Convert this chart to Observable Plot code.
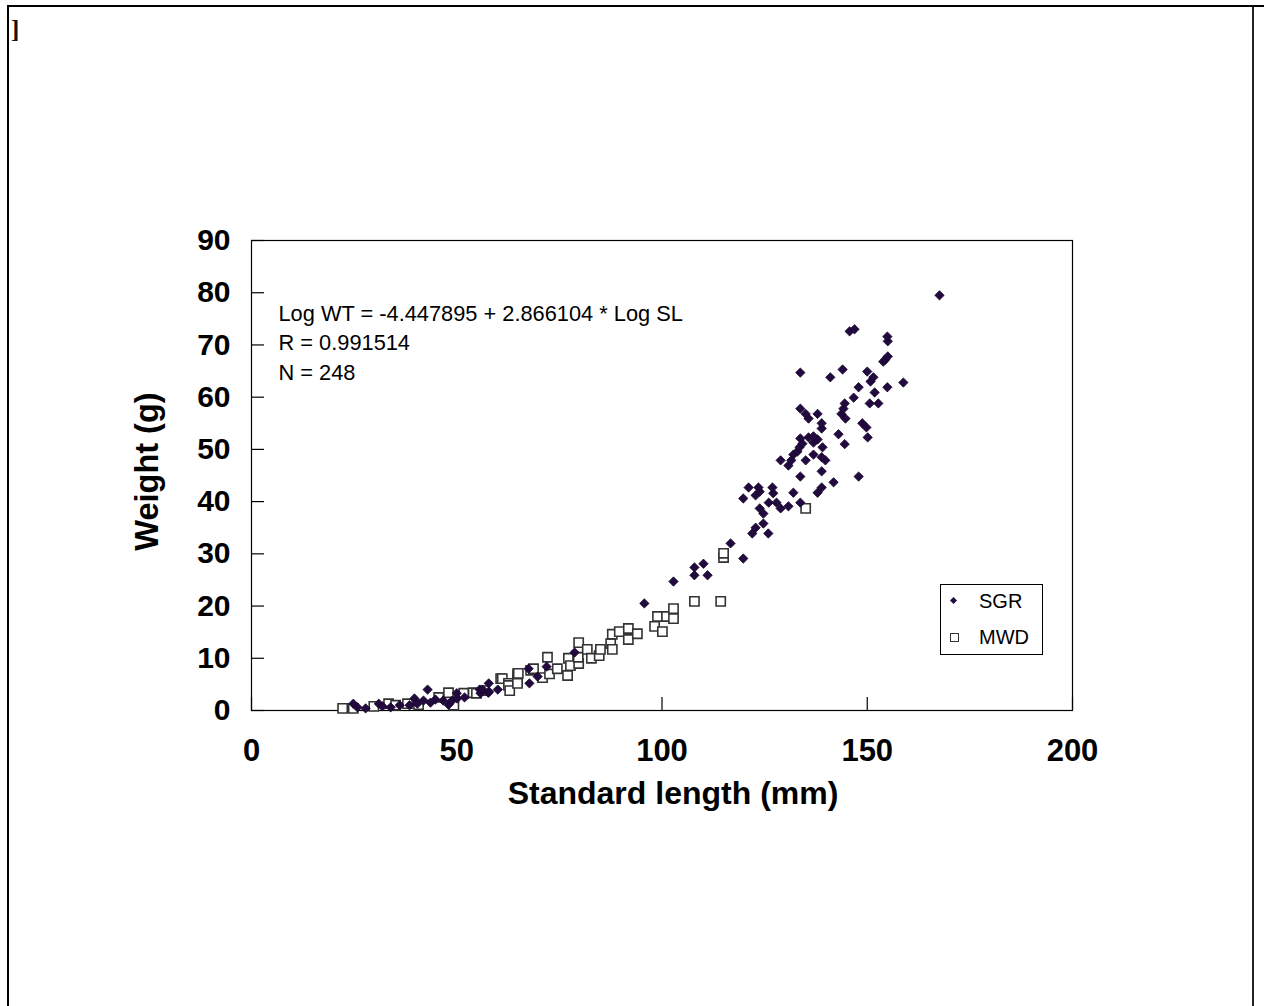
<!DOCTYPE html>
<html>
<head>
<meta charset="utf-8">
<script src="https://cdn.jsdelivr.net/npm/d3@7"></script>
<script src="https://cdn.jsdelivr.net/npm/@observablehq/plot@0.6"></script>
<style>
  html, body { margin: 0; padding: 0; background: #fff; }
  #wrap { position: relative; width: 1264px; height: 1006px; overflow: hidden; font-family: "Liberation Sans", Arial, sans-serif; }
  #chart { position: absolute; left: 0; top: 0; }
  .line { position: absolute; background: #000; }
  #bracket { position: absolute; left: 11px; top: 16px; font-family: "Liberation Serif", serif; font-weight: bold; font-size: 25px; color: #111; }
  #legend { position: absolute; left: 940px; top: 584px; width: 101px; height: 69px; border: 1px solid #000; background: #fff; }
  .lg-row { position: absolute; left: 0; height: 24px; width: 100px; }
  .lg-text { position: absolute; left: 38px; top: 0; font-size: 20px; line-height: 24px; color: #000; }
  .lg-dia { position: absolute; left: 10px; top: 9px; width: 5px; height: 5px; background: #220a40; transform: rotate(45deg); }
  .lg-sq { position: absolute; left: 9px; top: 8px; width: 7px; height: 7px; border: 1px solid #333; background: #fff; }
</style>
</head>
<body>
<div id="wrap">
  <div id="chart"></div>
  <div class="line" style="left:7px; top:5px; width:1257px; height:2px;"></div>
  <div class="line" style="left:7px; top:5px; width:2px; height:1001px;"></div>
  <div class="line" style="left:1252px; top:7px; width:2px; height:999px; background:#222;"></div>
  <div id="bracket">]</div>
  <div id="legend">
    <div class="lg-row" style="top:4px;"><div class="lg-dia"></div><div class="lg-text">SGR</div></div>
    <div class="lg-row" style="top:40px;"><div class="lg-sq"></div><div class="lg-text">MWD</div></div>
  </div>
</div>
<script>
// Standard length (mm), Weight (g)
const sgr = [
  [24.8,1.3],[25.8,0.6],[27.8,0.4],[31.0,1.3],[31.9,0.8],[33.9,0.6],[36.1,1.0],[38.5,1.0],[39.7,2.3],[40.4,1.3],
  [41.9,1.9],[42.9,4.0],[43.6,1.5],[44.8,2.1],[46.7,1.9],[48.0,1.1],[48.9,1.9],[50.0,3.3],[50.1,2.3],[51.9,2.5],
  [55.6,4.0],[55.8,3.3],[56.3,4.0],[57.7,3.4],[57.8,5.2],[57.9,3.6],[60.0,4.0],[67.5,8.0],[67.7,5.2],[69.7,6.5],
  [71.9,8.4],[78.7,11.1],[95.7,20.5],[102.8,24.7],[107.9,27.4],[107.9,25.9],[110.1,28.1],[111.1,25.9],[116.7,32.0],[119.8,29.1],
  [122.0,33.9],[125.9,33.9],[122.8,35.0],[124.7,35.8],[124.7,37.7],[123.8,38.7],[126.0,39.8],[127.9,39.8],[128.9,38.7],[130.8,39.1],
  [133.7,39.8],[119.8,40.6],[122.8,41.2],[123.8,41.9],[127.1,41.6],[132.0,41.7],[121.1,42.7],[123.5,42.7],[126.9,42.7],[137.9,41.7],
  [138.9,42.7],[141.8,43.7],[133.7,44.8],[147.9,44.8],[138.9,45.8],[130.8,46.9],[128.9,47.9],[131.5,47.9],[135.0,47.9],[139.8,47.9],
  [138.9,48.5],[132.0,49.0],[136.9,49.0],[133.0,49.6],[133.5,50.4],[139.1,50.4],[134.2,51.1],[136.9,51.3],[137.9,51.9],[133.7,52.1],
  [135.7,52.3],[136.9,52.5],[144.5,51.0],[143.0,52.9],[150.1,52.3],[149.8,54.2],[148.8,55.0],[138.9,54.0],[138.9,55.0],[135.7,55.9],
  [135.0,56.8],[137.9,56.8],[133.7,57.8],[144.7,55.9],[143.7,56.8],[144.2,57.8],[144.5,58.8],[150.6,58.8],[152.7,58.8],[146.7,59.9],
  [151.8,60.9],[147.9,61.9],[154.9,61.9],[158.8,62.8],[150.8,63.0],[151.5,63.8],[141.0,63.8],[150.0,64.9],[144.0,65.3],[133.7,64.7],
  [153.9,66.8],[154.4,67.2],[155.0,67.8],[155.0,70.7],[154.9,71.6],[145.7,72.6],[146.9,73.0],[167.6,79.5]
];
const mwd = [
  [22.2,0.4],[24.8,0.4],[29.8,0.8],[33.4,1.3],[35.1,1.0],[38.0,1.3],[40.7,1.1],[45.6,2.5],[48.0,3.4],[49.3,1.0],
  [51.7,3.3],[54.0,3.4],[54.8,3.3],[56.6,3.8],[60.7,6.1],[61.1,6.1],[62.6,5.2],[62.6,4.8],[62.9,3.8],[64.8,7.0],
  [64.8,5.7],[64.8,5.2],[65.0,7.1],[68.0,7.7],[68.7,8.0],[70.9,6.3],[72.1,10.2],[72.6,7.0],[74.5,8.0],[77.0,6.7],
  [77.2,10.0],[77.7,8.6],[79.7,9.0],[79.6,10.2],[79.7,13.0],[81.8,11.7],[82.8,10.0],[84.7,10.5],[85.0,11.7],[87.5,12.8],
  [87.9,11.7],[87.9,14.6],[89.6,15.1],[91.8,15.7],[91.8,13.6],[94.0,14.7],[98.2,16.1],[100.1,15.1],[98.9,18.0],[101.1,18.0],
  [102.8,17.6],[102.8,19.5],[107.9,20.9],[114.3,20.9],[115.0,29.3],[115.0,30.1],[135.0,38.7]
];
const xTicks = [0, 50, 100, 150, 200];
const yTicks = [0, 10, 20, 30, 40, 50, 60, 70, 80, 90];
const annotation = ["Log WT = -4.447895 + 2.866104 * Log SL", "R = 0.991514", "N = 248"];
const xTitle = "Standard length (mm)";
const yTitle = "Weight (g)";

const W = 1264, H = 1006;
const mL = 251, mR = W - 1072, mT = 240, mB = H - 710;
const innerW = W - mL - mR, innerH = H - mT - mB;

const chart = Plot.plot({
  width: W,
  height: H,
  marginLeft: mL,
  marginRight: mR,
  marginTop: mT,
  marginBottom: mB,
  style: { fontFamily: "'Liberation Sans', Arial, sans-serif", background: "transparent", color: "#000" },
  x: { domain: [0, 200] },
  y: { domain: [0, 90] },
  marks: [
    Plot.axisX({ ticks: xTicks, tickSize: 0, tickPadding: 28, fontSize: 31, fontWeight: "bold", label: null, tickFormat: d => String(d) }),
    Plot.axisY({ ticks: yTicks, tickSize: 0, tickPadding: 21, fontSize: 30, fontWeight: "bold", label: null, tickFormat: d => String(d) }),
    Plot.tickY(yTicks, { y: d => d, stroke: "#000", strokeWidth: 1.2, insetRight: innerW - 13 }),
    Plot.tickX(xTicks, { x: d => d, stroke: "#000", strokeWidth: 1.2, insetTop: innerH - 13 }),
    Plot.frame({ stroke: "#000", strokeWidth: 1.2 }),
    Plot.dot(mwd, { x: d => d[0], y: d => d[1], symbol: "square", r: 5.2, fill: "#fff", stroke: "#333", strokeWidth: 1.6 }),
    Plot.dot(sgr, { x: d => d[0], y: d => d[1], symbol: "diamond2", r: 4.2, fill: "#220a40", stroke: "#150628", strokeWidth: 0.8 }),
    Plot.text([annotation.join("\n")], { frameAnchor: "top-left", dx: 27, dy: 59, textAnchor: "start", lineAnchor: "top", lineHeight: 1.36, fontSize: 21.8, fill: "#000" }),
    Plot.text([xTitle], { frameAnchor: "bottom", dx: 11, dy: 83, textAnchor: "middle", lineAnchor: "middle", fontSize: 32, fontWeight: "bold", fill: "#000" }),
    Plot.text([yTitle], { frameAnchor: "left", dx: -104, dy: -4, rotate: -90, textAnchor: "middle", lineAnchor: "middle", fontSize: 32.5, fontWeight: "bold", fill: "#000" })
  ]
});
document.getElementById("chart").appendChild(chart);
</script>
</body>
</html>
